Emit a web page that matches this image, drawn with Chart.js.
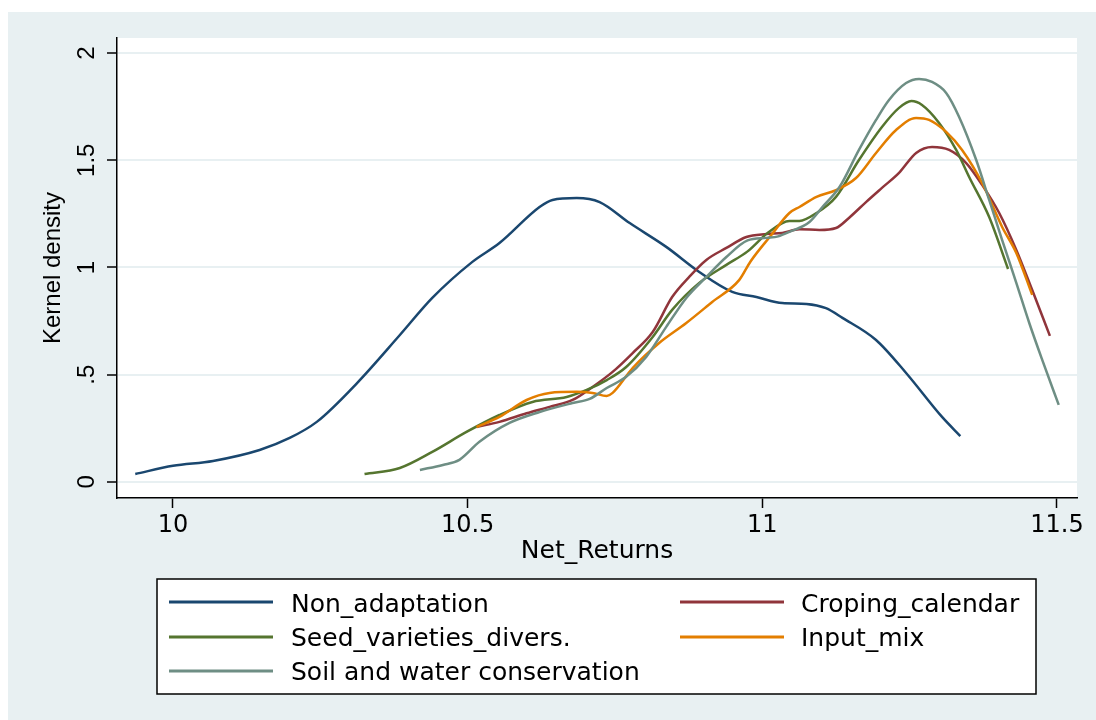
<!DOCTYPE html>
<html>
<head>
<meta charset="utf-8">
<title>Kernel density - Net_Returns</title>
<script src="https://cdn.jsdelivr.net/npm/chart.js@4.4.1/dist/chart.umd.min.js"></script>
<style>
  body { margin: 0; background: #fff; }
  #bg { position: absolute; left: 8px; top: 12px; right: 0; bottom: 0; background: #e8f0f2; }
  #chart { position: absolute; left: 0; top: 0; }
</style>
</head>
<body>
<div id="bg"></div>
<canvas id="chart" width="1096" height="720"></canvas>
<script>
// ticks
const xTicks = [10, 10.5, 11, 11.5];
const yTicks = [0, 0.5, 1, 1.5, 2];
const yTickLabels = ["0", ".5", "1", "1.5", "2"];

// Non_adaptation
const nonAdaptX = [9.936, 10.0, 10.068, 10.147, 10.198, 10.244, 10.312, 10.385, 10.44, 10.508, 10.554, 10.622, 10.644, 10.685, 10.724, 10.775, 10.837, 10.893, 10.949, 10.99, 11.034, 11.075, 11.108, 11.136, 11.193, 11.244, 11.305, 11.336];
const nonAdaptY = [0.037, 0.075, 0.098, 0.149, 0.205, 0.28, 0.46, 0.685, 0.858, 1.026, 1.114, 1.282, 1.315, 1.324, 1.305, 1.207, 1.096, 0.979, 0.886, 0.862, 0.834, 0.83, 0.81, 0.765, 0.662, 0.508, 0.303, 0.214];

// Croping_calendar
const cropX = [10.515, 10.554, 10.6, 10.639, 10.678, 10.712, 10.746, 10.78, 10.814, 10.847, 10.876, 10.905, 10.939, 10.973, 11.007, 11.034, 11.063, 11.097, 11.125, 11.147, 11.176, 11.203, 11.232, 11.261, 11.288, 11.317, 11.346, 11.373, 11.402, 11.431, 11.458, 11.488];
const cropY = [0.256, 0.28, 0.32, 0.35, 0.382, 0.443, 0.513, 0.601, 0.699, 0.862, 0.956, 1.035, 1.091, 1.142, 1.156, 1.161, 1.178, 1.175, 1.184, 1.231, 1.305, 1.371, 1.441, 1.534, 1.562, 1.548, 1.487, 1.385, 1.254, 1.082, 0.895, 0.681];

// Seed_varieties_divers.
const seedX = [10.325, 10.385, 10.44, 10.498, 10.554, 10.61, 10.668, 10.702, 10.736, 10.769, 10.814, 10.847, 10.893, 10.939, 10.975, 11.01, 11.046, 11.063, 11.092, 11.125, 11.164, 11.203, 11.232, 11.253, 11.271, 11.3, 11.329, 11.351, 11.385, 11.417];
const seedY = [0.037, 0.065, 0.14, 0.233, 0.312, 0.373, 0.396, 0.429, 0.475, 0.536, 0.676, 0.802, 0.928, 1.012, 1.075, 1.163, 1.217, 1.217, 1.254, 1.329, 1.501, 1.655, 1.744, 1.776, 1.758, 1.674, 1.548, 1.422, 1.235, 0.993];

// Input_mix
const inputX = [10.515, 10.554, 10.6, 10.639, 10.685, 10.712, 10.736, 10.746, 10.78, 10.825, 10.871, 10.915, 10.961, 10.98, 11.014, 11.046, 11.063, 11.092, 11.125, 11.159, 11.193, 11.227, 11.261, 11.283, 11.312, 11.339, 11.373, 11.407, 11.431, 11.458];
const inputY = [0.256, 0.303, 0.382, 0.415, 0.42, 0.415, 0.401, 0.415, 0.531, 0.648, 0.741, 0.839, 0.942, 1.028, 1.147, 1.254, 1.282, 1.329, 1.361, 1.417, 1.534, 1.641, 1.697, 1.688, 1.632, 1.548, 1.394, 1.189, 1.068, 0.872];

// Soil and water conservation
const soilX = [10.419, 10.458, 10.486, 10.52, 10.571, 10.622, 10.678, 10.707, 10.736, 10.769, 10.803, 10.837, 10.871, 10.905, 10.939, 10.975, 11.007, 11.027, 11.046, 11.08, 11.102, 11.131, 11.164, 11.193, 11.215, 11.244, 11.266, 11.288, 11.312, 11.334, 11.363, 11.385, 11.407, 11.431, 11.453, 11.475, 11.503];
const soilY = [0.056, 0.079, 0.103, 0.187, 0.275, 0.326, 0.368, 0.387, 0.438, 0.49, 0.583, 0.723, 0.858, 0.956, 1.049, 1.126, 1.138, 1.145, 1.166, 1.212, 1.282, 1.375, 1.548, 1.688, 1.781, 1.86, 1.879, 1.865, 1.814, 1.702, 1.501, 1.315, 1.128, 0.928, 0.741, 0.569, 0.359];

const pts = (xs, ys) => xs.map((x, i) => ({ x: x, y: ys[i] }));

const tickFont = { family: "DejaVu Sans", size: 24 };
const rotFont = { family: "Liberation Sans", size: 24 };

function series(label, xs, ys, color, order) {
  return {
    label: label,
    data: pts(xs, ys),
    borderColor: color,
    backgroundColor: color,
    borderWidth: 2.5,
    pointRadius: 0,
    tension: 0.4,
    cubicInterpolationMode: "monotone",
    fill: false,
    order: order
  };
}

// white plot region
const plotBg = {
  id: "plotBg",
  beforeDraw(chart) {
    const a = chart.chartArea;
    chart.ctx.save();
    chart.ctx.fillStyle = "#fff";
    chart.ctx.fillRect(a.left, a.top, a.right - a.left, a.bottom - a.top);
    chart.ctx.restore();
  }
};

// boxed two-column legend like Stata
const boxLegend = {
  id: "boxLegend",
  afterDraw(chart) {
    const ctx = chart.ctx;
    ctx.save();
    ctx.fillStyle = "#fff";
    ctx.fillRect(157, 579, 879, 115);
    ctx.strokeStyle = "#000";
    ctx.lineWidth = 1.5;
    ctx.strokeRect(157, 579, 879, 115);
    const lineX = [169, 680];
    const textX = [291, 801];
    const rowLine = [602, 637, 671];
    const rowBase = [612, 646, 680];
    ctx.font = "25px 'DejaVu Sans'";
    ctx.textBaseline = "alphabetic";
    chart.data.datasets.forEach((ds, i) => {
      const col = i % 2, row = Math.floor(i / 2);
      ctx.strokeStyle = ds.borderColor;
      ctx.lineWidth = 3;
      ctx.beginPath();
      ctx.moveTo(lineX[col], rowLine[row]);
      ctx.lineTo(lineX[col] + 104, rowLine[row]);
      ctx.stroke();
      ctx.fillStyle = "#000";
      ctx.fillText(ds.label, textX[col], rowBase[row]);
    });
    ctx.restore();
  }
};

new Chart(document.getElementById("chart"), {
  type: "line",
  data: {
    datasets: [
      series("Non_adaptation", nonAdaptX, nonAdaptY, "#1a476f", 5),
      series("Croping_calendar", cropX, cropY, "#90353b", 4),
      series("Seed_varieties_divers.", seedX, seedY, "#55752f", 3),
      series("Input_mix", inputX, inputY, "#e37e00", 2),
      series("Soil and water conservation", soilX, soilY, "#6e8e84", 1)
    ]
  },
  options: {
    responsive: false,
    animation: false,
    devicePixelRatio: 1,
    layout: { padding: { left: 0, top: 38, right: 19, bottom: 142 } },
    plugins: { legend: { display: false }, tooltip: { enabled: false } },
    scales: {
      x: {
        type: "linear",
        min: 9.905,
        max: 11.534,
        afterBuildTicks: s => { s.ticks = xTicks.map(v => ({ value: v })); },
        afterFit: s => { s.height = 80; },
        grid: { drawOnChartArea: false, drawTicks: true, tickLength: 10, tickColor: "#000", tickWidth: 1.5 },
        border: { color: "#000", width: 1.5 },
        ticks: { font: tickFont, color: "#000", padding: 3, maxRotation: 0, callback: v => String(v) },
        title: { display: true, text: "Net_Returns", font: { family: "DejaVu Sans", size: 25 }, color: "#000", padding: { top: 0, bottom: 12 } }
      },
      y: {
        type: "linear",
        min: -0.075,
        max: 2.07,
        afterBuildTicks: s => { s.ticks = yTicks.map(v => ({ value: v })); },
        afterFit: s => { s.width = 117; },
        grid: { color: "#e8f0f2", lineWidth: 2, drawTicks: true, tickLength: 10, tickColor: "#000", tickWidth: 1.5 },
        border: { color: "#000", width: 1.5 },
        ticks: { font: rotFont, color: "#000", padding: 3, minRotation: 90, maxRotation: 90, crossAlign: "center", callback: (v, i) => yTickLabels[i] },
        title: { display: true, text: "Kernel density", font: rotFont, color: "#000", padding: { top: 39, bottom: 0 } }
      }
    }
  },
  plugins: [plotBg, boxLegend]
});
</script>
</body>
</html>
